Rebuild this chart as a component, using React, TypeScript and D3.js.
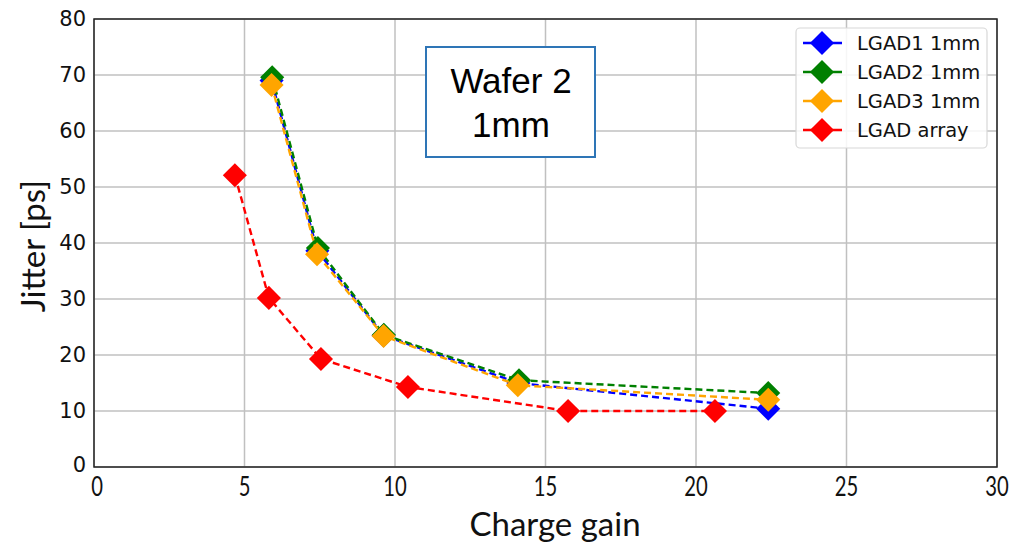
import React from "react";
import * as d3 from "d3";

const seriesNames = ["LGAD1 1mm", "LGAD2 1mm", "LGAD3 1mm", "LGAD array"];
const seriesColors = ["#0000ff", "#008000", "#ffa500", "#ff0000"];

const gainLgad1 = [5.9, 7.42, 9.62, 14.1, 22.4];
const jitterLgad1 = [69.0, 38.6, 23.5, 15.0, 10.4];
const gainLgad2 = [5.92, 7.44, 9.63, 14.12, 22.4];
const jitterLgad2 = [69.6, 39.1, 23.6, 15.5, 13.2];
const gainLgad3 = [5.9, 7.41, 9.62, 14.08, 22.4];
const jitterLgad3 = [68.2, 38.0, 23.4, 14.6, 12.0];
const gainArray = [4.68, 5.81, 7.54, 10.43, 15.75, 20.63];
const jitterArray = [52.1, 30.2, 19.3, 14.3, 10.0, 10.0];

const xTicks = [0, 5, 10, 15, 20, 25, 30];
const yTicks = [0, 10, 20, 30, 40, 50, 60, 70, 80];

const W = 1025;
const H = 543;
const left = 94;
const right = 997;
const top = 19;
const bottom = 467;

export default function App() {
  const x = d3.scaleLinear().domain([0, 30]).range([left, right]);
  const y = d3.scaleLinear().domain([0, 80]).range([bottom, top]);

  const series = [
    { g: gainLgad1, j: jitterLgad1 },
    { g: gainLgad2, j: jitterLgad2 },
    { g: gainLgad3, j: jitterLgad3 },
    { g: gainArray, j: jitterArray },
  ];

  const line = d3
    .line<[number, number]>()
    .x((d) => x(d[0]))
    .y((d) => y(d[1]));

  // diamond = square turned 45 degrees
  const diamond = d3.symbol(d3.symbolSquare, 290)();

  return (
    <div style={{ position: "absolute", left: 0, top: 0 }}>
      <svg width={W} height={H} style={{ display: "block", background: "#fff" }}>
        {/* grid */}
        {xTicks.map((t) => (
          <line key={"gx" + t} x1={x(t)} x2={x(t)} y1={top} y2={bottom} stroke="#c0c0c0" strokeWidth={1.5} />
        ))}
        {yTicks.map((t) => (
          <line key={"gy" + t} x1={left} x2={right} y1={y(t)} y2={y(t)} stroke="#c0c0c0" strokeWidth={1.5} />
        ))}

        {/* series */}
        {series.map((s, i) => {
          const pts = s.g.map((g, k) => [g, s.j[k]] as [number, number]);
          return (
            <g key={"s" + i}>
              <path d={line(pts) || ""} fill="none" stroke={seriesColors[i]} strokeWidth={2.4} strokeDasharray="7,4" />
              {pts.map((p, k) => (
                <path
                  key={k}
                  d={diamond || ""}
                  transform={`translate(${x(p[0])},${y(p[1])}) rotate(45)`}
                  fill={seriesColors[i]}
                />
              ))}
            </g>
          );
        })}

        {/* frame */}
        <rect x={left} y={top} width={right - left} height={bottom - top} fill="none" stroke="#222" strokeWidth={1.5} />

        {/* y tick labels */}
        {yTicks.map((t) => (
          <text
            key={"ly" + t}
            x={left - 8}
            y={t === 0 ? y(t) - 2 : y(t)}
            textAnchor="end"
            dominantBaseline="central"
            fontFamily="DejaVu Sans"
            fontSize={21}
            fill="#111"
          >
            {t}
          </text>
        ))}

        {/* x tick labels */}
        {xTicks.map((t) => {
          const cx = t === 0 ? x(t) + 3 : x(t);
          const cy = bottom + 18;
          return (
            <text
              key={"lx" + t}
              x={0}
              y={0}
              textAnchor="middle"
              dominantBaseline="central"
              fontFamily="Lato"
              fontSize={27}
              fill="#111"
              transform={`translate(${cx},${cy}) scale(0.75,1)`}
            >
              {t}
            </text>
          );
        })}

        {/* axis titles */}
        <text x={555} y={536} textAnchor="middle" fontFamily="Lato" fontSize={33} fill="#111">
          Charge gain
        </text>
        <text
          transform={`translate(45,${(top + bottom) / 2 + 3}) rotate(-90)`}
          textAnchor="middle"
          fontFamily="Lato"
          fontSize={33}
          fill="#111"
        >
          Jitter [ps]
        </text>

        {/* annotation box */}
        <rect x={426} y={47} width={169} height={110} fill="#fff" stroke="#2e75b6" strokeWidth={2} />
        <text x={511} y={93} textAnchor="middle" fontFamily="Liberation Sans" fontSize={35} fill="#000">
          Wafer 2
        </text>
        <text x={511} y={137} textAnchor="middle" fontFamily="Liberation Sans" fontSize={35} fill="#000">
          1mm
        </text>

        {/* legend */}
        <rect x={796} y={28} width={191} height={120} rx={4} fill="#fff" fillOpacity={0.85} stroke="#d8d8d8" strokeWidth={1.2} />
        {seriesNames.map((n, i) => {
          const ly = 43 + i * 29;
          return (
            <g key={"lg" + i}>
              <line x1={803} x2={842} y1={ly} y2={ly} stroke={seriesColors[i]} strokeWidth={2.4} />
              <path d={diamond || ""} transform={`translate(822,${ly}) rotate(45)`} fill={seriesColors[i]} />
              <text x={857} y={ly} dominantBaseline="central" fontFamily="DejaVu Sans" fontSize={19.5} fill="#111">
                {n}
              </text>
            </g>
          );
        })}
      </svg>
    </div>
  );
}
